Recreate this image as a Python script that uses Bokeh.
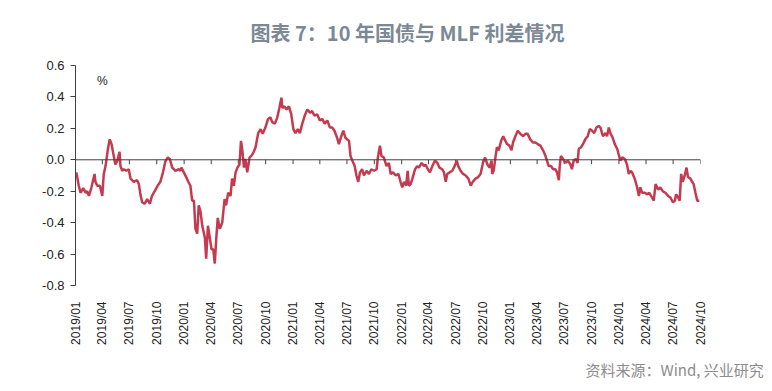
import numpy as np
import pandas as pd
from bokeh.plotting import figure
from bokeh.models import Span, Label, Title, FixedTicker, DatetimeTickFormatter, NumeralTickFormatter, Range1d
from bokeh.embed import file_html
from bokeh.resources import INLINE

# ---------------- data ----------------
start_date = "2019-01-01"
day_offset = [
    3, 11, 17, 26, 34, 39, 45, 53, 64, 67, 73, 82, 90, 95, 101, 109, 115, 121, 126, 134,
    140, 148, 151, 157, 162, 171, 179, 185, 196, 207, 213, 218, 224, 232, 241, 250, 257, 269, 276, 285,
    294, 302, 310, 317, 325, 336, 347, 352,
    356, 364, 372, 379, 386, 392, 398, 403, 409, 414, 420, 426, 435, 439, 445, 450, 457, 463, 468, 473,
    478, 485, 493, 501, 506, 513, 521, 526, 532, 538, 544, 551, 556, 560, 566, 571, 577, 585, 591, 599,
    605, 614, 622, 629, 638, 647, 655, 661, 670, 678, 685, 692,
    695, 702, 709, 717, 725, 732, 739, 747, 754, 762, 770, 779, 788, 795, 803, 812, 821, 829, 837, 846,
    855, 863, 870, 879, 885, 893, 900, 907, 913, 919, 924, 930, 938, 944, 950, 956, 963, 969, 978, 986,
    994, 1003, 1012, 1016, 1023, 1028, 1036, 1045, 1053,
    1059, 1067, 1076, 1085, 1092, 1098, 1104, 1111, 1116, 1120, 1126, 1132, 1141, 1148, 1154, 1163, 1171,
    1176, 1184, 1191, 1199, 1208, 1216, 1223, 1232, 1238, 1244, 1249, 1257, 1266, 1274, 1281, 1286, 1294,
    1302, 1311, 1320, 1328, 1335, 1344, 1353, 1361, 1369, 1376, 1384, 1391, 1398,
    1400, 1405, 1411, 1416, 1422, 1430, 1437, 1442, 1450, 1458, 1465, 1470, 1478, 1486, 1495, 1504, 1512,
    1519, 1528, 1537, 1545, 1553, 1562, 1571, 1579, 1584, 1590, 1598, 1605, 1612, 1618, 1624, 1627, 1631,
    1638, 1646, 1654, 1663, 1668, 1674, 1681, 1687, 1691, 1699, 1705, 1713, 1721, 1728, 1736, 1743, 1750,
    1758, 1764,
    1772, 1781, 1786, 1792, 1797, 1805, 1812, 1820, 1825, 1831, 1837, 1846, 1853, 1859, 1865, 1870, 1879,
    1887, 1893, 1898, 1904, 1913, 1921, 1928, 1937, 1943, 1949, 1958, 1965, 1973, 1982, 1991, 1999, 2007,
    2014, 2018, 2025, 2030, 2035, 2040, 2047, 2053, 2058, 2066, 2072, 2077, 2083, 2089, 2096,
]
spread = [
    -0.08, -0.165, -0.21, -0.18, -0.21, -0.20, -0.23, -0.18, -0.09, -0.14, -0.165, -0.165, -0.23, -0.09, -0.04, 0.07, 0.13, 0.10, 0.05, -0.03,
    -0.01, 0.05, -0.04, -0.07, -0.06, -0.07, -0.06, -0.12, -0.14, -0.13, -0.155, -0.22, -0.27, -0.28, -0.25, -0.28, -0.23, -0.19, -0.165, -0.14,
    -0.08, -0.01, 0.015, 0.005, -0.05, -0.07, -0.06, -0.07,
    -0.05, -0.08, -0.11, -0.14, -0.165, -0.26, -0.26, -0.44, -0.47, -0.29, -0.33, -0.42, -0.50, -0.63, -0.42, -0.48, -0.57, -0.57, -0.66, -0.50,
    -0.37, -0.44, -0.40, -0.25, -0.29, -0.21, -0.23, -0.12, -0.165, -0.08, -0.05, -0.03, 0.12, 0.07, -0.05, 0.005, -0.08, 0.015, 0.025, 0.05,
    0.08, 0.17, 0.195, 0.165, 0.205, 0.26, 0.27, 0.24, 0.23, 0.27, 0.33, 0.395,
    0.33, 0.34, 0.32, 0.34, 0.29, 0.195, 0.17, 0.195, 0.17, 0.23, 0.28, 0.32, 0.30, 0.31, 0.28, 0.29, 0.25, 0.26, 0.23, 0.25,
    0.205, 0.205, 0.185, 0.14, 0.10, 0.15, 0.185, 0.14, 0.13, 0.12, 0.025, -0.005, -0.04, -0.10, -0.14, -0.08, -0.06, -0.10, -0.07, -0.09,
    -0.06, -0.07, -0.06, 0.015, 0.09, 0.025, 0.015, -0.04, -0.02,
    -0.09, -0.08, -0.10, -0.09, -0.14, -0.175, -0.14, -0.165, -0.07, -0.165, -0.155, -0.12, -0.06, -0.04, -0.05, -0.02, -0.04,
    -0.03, -0.06, -0.08, -0.04, -0.005, -0.02, -0.05, -0.06, -0.08, -0.14, -0.09, -0.08, -0.07, -0.04, -0.005, -0.04, -0.07,
    -0.09, -0.10, -0.12, -0.165, -0.14, -0.12, -0.11, -0.09, -0.02, 0.015, -0.03, -0.05, -0.005,
    -0.09, -0.07, 0.015, 0.08, 0.06, 0.12, 0.15, 0.13, 0.10, 0.09, 0.06, 0.11, 0.15, 0.185, 0.165, 0.15, 0.165,
    0.165, 0.13, 0.11, 0.11, 0.10, 0.09, 0.06, 0.025, -0.005, -0.04, -0.04, -0.06, -0.06, -0.08, -0.13, -0.04, 0.025,
    0.005, -0.02, -0.005, -0.03, -0.06, -0.005, 0.005, -0.02, 0.07, 0.08, 0.10, 0.13, 0.15, 0.195, 0.185, 0.17, 0.205,
    0.215, 0.205,
    0.15, 0.17, 0.15, 0.205, 0.17, 0.14, 0.10, 0.07, 0.035, -0.005, 0.015, 0.005, -0.03, -0.09, -0.07, -0.08, -0.12,
    -0.175, -0.23, -0.175, -0.21, -0.21, -0.22, -0.21, -0.24, -0.26, -0.155, -0.19, -0.175, -0.20, -0.21, -0.23, -0.24, -0.27,
    -0.26, -0.22, -0.24, -0.26, -0.09, -0.14, -0.10, -0.05, -0.11, -0.12, -0.14, -0.155, -0.21, -0.26, -0.26,
]
tick_labels = [
    "2019/01", "2019/04", "2019/07", "2019/10", "2020/01", "2020/04", "2020/07", "2020/10",
    "2021/01", "2021/04", "2021/07", "2021/10", "2022/01", "2022/04", "2022/07", "2022/10",
    "2023/01", "2023/04", "2023/07", "2023/10", "2024/01", "2024/04", "2024/07", "2024/10",
]
y_ticks = [-0.8, -0.6, -0.4, -0.2, 0.0, 0.2, 0.4, 0.6]
title_text = "图表 7：10 年国债与 MLF 利差情况"
source_text = "资料来源：Wind, 兴业研究"
unit_text = "%"

# ---------------- derived ----------------
dates = pd.Timestamp(start_date) + pd.to_timedelta(day_offset, unit="D")
tick_dates = pd.to_datetime([t + "/01" for t in tick_labels], format="%Y/%m/%d")
tick_ms = [d.timestamp() * 1000.0 for d in tick_dates]

LINE_COLOR = "#c43b50"
AXIS_COLOR = "#404040"
TICK_FONT = "Liberation Sans"

p = figure(
    width=764, height=388,
    x_axis_type="datetime",
    x_range=Range1d(tick_dates[0], tick_dates[-1]),
    y_range=Range1d(y_ticks[0], y_ticks[-1]),
    output_backend="svg", toolbar_location=None,
    min_border_left=75, min_border_right=64, min_border_top=65, min_border_bottom=103,
)
p.background_fill_color = "white"
p.border_fill_color = "white"
p.outline_line_color = None
p.xgrid.visible = False
p.ygrid.visible = False

# title
p.title.text = title_text
p.title.align = "left"
p.title.offset = 175
p.title.vertical_align = "top"
p.title.standoff = 33
p.title.text_font = "Noto Sans CJK SC"
p.title.text_font_size = "20px"
p.title.text_font_style = "bold"
p.title.text_color = "#7d8896"

# zero line with ticks
p.add_layout(Span(location=0, dimension="width", line_color=AXIS_COLOR, line_width=1))
p.segment(x0=tick_dates, y0=0, x1=tick_dates, y1=-0.028, line_color=AXIS_COLOR, line_width=1)

# series
p.line(dates, spread, line_color=LINE_COLOR, line_width=2.5)

# y axis
p.yaxis.ticker = FixedTicker(ticks=y_ticks)
p.yaxis.formatter = NumeralTickFormatter(format="0.0")
p.yaxis.axis_line_color = AXIS_COLOR
p.yaxis.major_tick_line_color = AXIS_COLOR
p.yaxis.major_tick_out = 5
p.yaxis.major_tick_in = 0
p.yaxis.minor_tick_line_color = None
p.yaxis.major_label_standoff = 6
p.yaxis.major_label_text_font = TICK_FONT
p.yaxis.major_label_text_font_size = "13px"
p.yaxis.major_label_text_color = "#222222"

# x axis (labels only, at bottom)
fmt = "%Y/%m"
p.xaxis.ticker = FixedTicker(ticks=tick_ms)
p.xaxis.formatter = DatetimeTickFormatter(
    years=fmt, months=fmt, days=fmt, hours=fmt, minutes=fmt, seconds=fmt,
    milliseconds=fmt, microseconds=fmt, hourmin=fmt, minsec=fmt,
)
p.xaxis.major_label_orientation = np.pi / 2
p.xaxis.axis_line_color = None
p.xaxis.major_tick_line_color = None
p.xaxis.minor_tick_line_color = None
p.xaxis.major_label_standoff = 10
p.xaxis.major_label_text_font = TICK_FONT
p.xaxis.major_label_text_font_size = "12px"
p.xaxis.major_label_text_color = "#222222"

# unit label
p.add_layout(Label(x=tick_ms[1], y=0.5, text=unit_text, text_align="center",
                   text_baseline="middle", text_font=TICK_FONT, text_font_size="12px",
                   text_color="#222222"))

# source note
p.add_layout(Title(text=source_text, align="left", text_font="Noto Sans CJK SC",
                   text_font_size="15px", text_font_style="normal", text_color="#8c8c8c",
                   offset=510, standoff=18), "below")

open("out.html", "w").write(file_html(p, INLINE))
